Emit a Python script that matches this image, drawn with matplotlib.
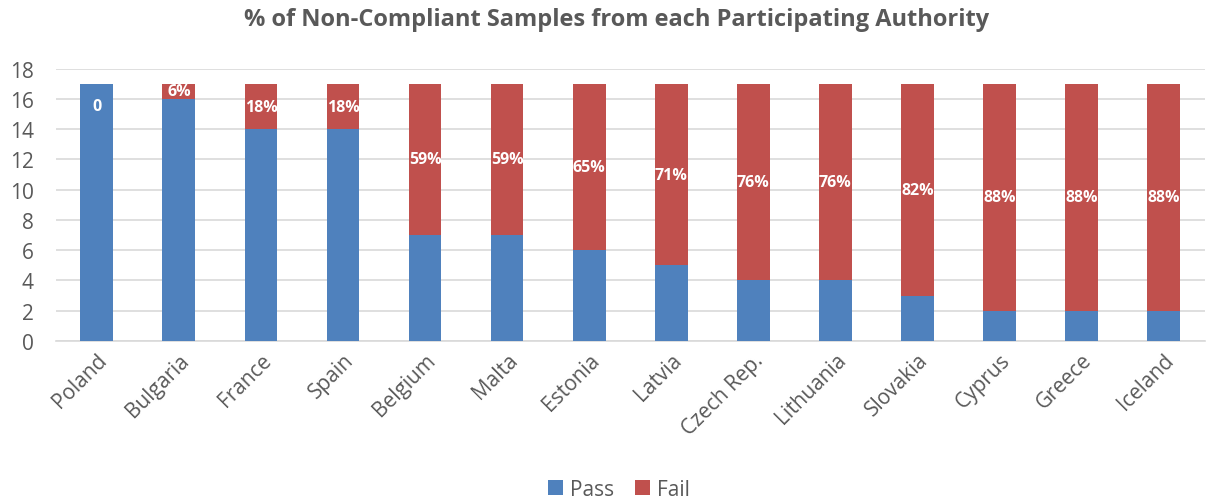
import matplotlib
matplotlib.use("Agg")
import matplotlib.pyplot as plt
import numpy as np

countries = ["Poland", "Bulgaria", "France", "Spain", "Belgium", "Malta", "Estonia",
             "Latvia", "Czech Rep.", "Lithuania", "Slovakia", "Cyprus", "Greece", "Iceland"]
passed = [17, 16, 14, 14, 7, 7, 6, 5, 4, 4, 3, 2, 2, 2]
failed = [0, 1, 3, 3, 10, 10, 11, 12, 13, 13, 14, 15, 15, 15]
fail_labels = ["0", "6%", "18%", "18%", "59%", "59%", "65%", "71%", "76%", "76%",
               "82%", "88%", "88%", "88%"]
yticks = [0, 2, 4, 6, 8, 10, 12, 14, 16, 18]

plt.rcParams['font.family'] = ['Open Sans', 'DejaVu Sans']

fig = plt.figure(figsize=(12.13, 5.02), dpi=100)
ax = fig.add_axes([0.046, 0.319, 0.947, 0.542])

blue = "#4F81BD"
red = "#C0504D"
x = np.arange(len(countries))
w = 0.4
ax.bar(x, passed, w, color=blue, label="Pass", zorder=3)
ax.bar(x, failed, w, bottom=passed, color=red, label="Fail", zorder=3)

for i, (p, f, lab) in enumerate(zip(passed, failed, fail_labels)):
    if f == 0:
        ax.annotate(lab, (x[i], p + f), xytext=(0, -10), textcoords="offset points",
                    ha="center", va="top", color="white", fontsize=11.5, fontweight="bold", zorder=4)
    else:
        ax.text(x[i], p + f / 2, lab, ha="center", va="center", color="white",
                fontsize=11.5, fontweight="bold", zorder=4)

ax.set_ylim(0, 18)
ax.set_xlim(-0.5, len(countries) - 0.5)
ax.set_yticks(yticks)
ax.yaxis.grid(True, color="#D9D9D9", linewidth=1.2, zorder=0)
ax.set_axisbelow(True)
for s in ["top", "right", "left"]:
    ax.spines[s].set_visible(False)
ax.spines["bottom"].set_color("#D9D9D9")
ax.spines["bottom"].set_linewidth(1.2)
ax.tick_params(axis="both", length=0, colors="#595959", labelsize=15)
ax.tick_params(axis="y", pad=16)
ax.set_xticks(x)
ax.set_xticklabels(countries, rotation=45, ha="right", rotation_mode="anchor")
ax.tick_params(axis="x", pad=6)

fig.suptitle("% of Non-Compliant Samples from each Participating Authority",
             x=0.508, y=0.985, fontsize=17, fontweight="bold", color="#595959")

fig.legend(loc="lower center", bbox_to_anchor=(0.51, -0.035), ncol=2, frameon=False,
           fontsize=15, handlelength=0.75, handleheight=0.75, handletextpad=0.3,
           columnspacing=1.0, labelcolor="#595959")

fig.savefig("out.png", dpi=100)
